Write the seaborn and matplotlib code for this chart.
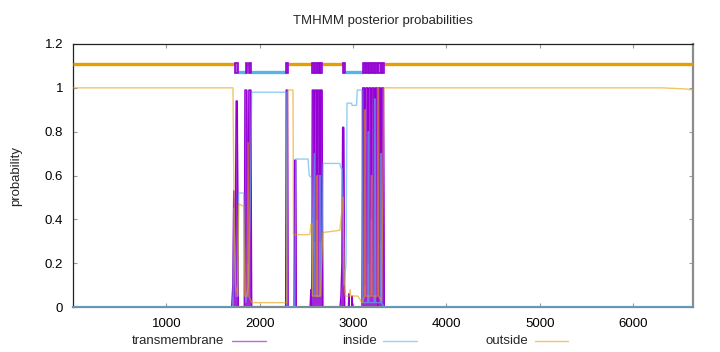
import matplotlib
matplotlib.use("Agg")
import matplotlib.pyplot as plt
from matplotlib.lines import Line2D
from matplotlib.patches import Rectangle
import seaborn as sns
import pandas as pd

# ---------------- data ----------------
seq_length = 6640

tm_pos = [1, 1700, 1712, 1722, 1730, 1738, 1748, 1760, 1772, 1835, 1842, 1862, 1870, 1876,
          1884, 1906, 1914, 2278, 2284, 2298, 2304, 2368, 2374, 2386, 2392, 2540, 2548, 2556,
          2563, 2580, 2586, 2592, 2609, 2615, 2621, 2638, 2645, 2651, 2668, 2676, 2860, 2870,
          2880, 2888, 2900, 2910, 2950, 2955, 2960, 2985, 2990, 2995, 3095, 3103, 3122, 3129,
          3137, 3156, 3163, 3171, 3190, 3197, 3205, 3224, 3231, 3239, 3258, 3265, 3273, 3292,
          3299, 3307, 3326, 3334, 6640]
tm_prob = [0, 0, 0.10, 0.53, 0.05, 0.30, 0.94, 0.94, 0.0, 0.0, 0.99, 0.99, 0.30, 0.20,
           0.99, 0.99, 0.0, 0.0, 0.99, 0.99, 0.0, 0.0, 0.67, 0.67, 0.0, 0.0, 0.08, 0.0,
           0.99, 0.99, 0.30, 0.99, 0.99, 0.40, 0.99, 0.99, 0.30, 0.99, 0.99, 0.0, 0.0, 0.05,
           0.20, 0.82, 0.82, 0.0, 0.0, 0.06, 0.0, 0.0, 0.05, 0.0, 0.0, 1.0, 1.0, 0.10,
           1.0, 1.0, 0.20, 1.0, 1.0, 0.40, 1.0, 1.0, 0.05, 1.0, 1.0, 0.0, 1.0, 1.0,
           0.30, 1.0, 1.0, 0.0, 0.0]

inside_pos = [1, 1714, 1725, 1740, 1765, 1775, 1829, 1840, 1850, 1880, 1900, 1915, 2284, 2292,
              2375, 2388, 2518, 2530, 2555, 2565, 2586, 2592, 2640, 2646, 2652, 2672, 2679,
              2858, 2870, 2883, 2893, 2905, 2925, 2935, 2983, 2990, 3037, 3045, 3094, 3105,
              3158, 3164, 3169, 3226, 3232, 3237, 3294, 3300, 3305, 3330, 6640]
inside_prob = [0.0, 0.0, 0.45, 0.05, 0.05, 0.52, 0.52, 0.20, 0.02, 0.10, 0.50, 0.98, 0.98, 0.0,
               0.0, 0.675, 0.675, 0.60, 0.59, 0.05, 0.70, 0.05, 0.05, 0.60, 0.05, 0.40, 0.655,
               0.655, 0.633, 0.633, 0.45, 0.10, 0.20, 0.93, 0.93, 0.92, 0.92, 0.99, 0.99, 0.02,
               0.02, 0.80, 0.02, 0.02, 0.95, 0.02, 0.02, 0.70, 0.02, 0.0, 0.0]

outside_pos = [1, 1714, 1725, 1740, 1765, 1775, 1829, 1838, 1866, 1876, 1884, 1915, 2290, 2300,
               2357, 2362, 2536, 2550, 2560, 2568, 2611, 2616, 2620, 2650, 2672, 2679, 2858,
               2883, 2893, 2905, 2915, 2960, 2968, 2975, 3051, 3095, 3124, 3130, 3135, 3192,
               3198, 3203, 3260, 3266, 3271, 3305, 3322, 3330, 6300, 6560, 6640]
outside_prob = [1.0, 1.0, 0.47, 0.10, 0.05, 0.47, 0.46, 0.05, 0.05, 0.75, 0.05, 0.02, 0.02, 0.99,
                0.99, 0.33, 0.33, 0.38, 0.38, 0.05, 0.05, 0.60, 0.05, 0.05, 0.30, 0.34, 0.35,
                0.45, 0.50, 0.10, 0.05, 0.05, 0.08, 0.05, 0.05, 0.02, 0.05, 0.90, 0.05, 0.05,
                0.60, 0.05, 0.05, 1.00, 0.05, 0.03, 0.60, 1.00, 1.00, 0.995, 0.99]

# predicted topology (o = outside, i = inside, M = transmembrane helix)
topo_start = [1, 1740, 1768, 1850, 1868, 1884, 1908, 2286, 2304, 2561, 2582, 2590, 2611, 2620,
              2641, 2650, 2672, 2893, 2912, 3101, 3124, 3135, 3158, 3169, 3192, 3203, 3226,
              3237, 3260, 3271, 3294, 3305, 3328]
topo_end = [1740, 1768, 1850, 1868, 1884, 1908, 2286, 2304, 2561, 2582, 2590, 2611, 2620, 2641,
            2650, 2672, 2893, 2912, 3101, 3124, 3135, 3158, 3169, 3192, 3203, 3226, 3237,
            3260, 3271, 3294, 3305, 3328, 6640]
topo_kind = ["o", "M", "i", "M", "o", "M", "i", "M", "o", "M", "i", "M", "o", "M",
             "i", "M", "o", "M", "i", "M", "o", "M", "i", "M", "o", "M", "i",
             "M", "o", "M", "i", "M", "o"]

x_ticks = [1000, 2000, 3000, 4000, 5000, 6000]
y_ticks = [0, 0.2, 0.4, 0.6, 0.8, 1.0, 1.2]
y_tick_labels = ["0", "0.2", "0.4", "0.6", "0.8", "1", "1.2"]
series_names = ["transmembrane", "inside", "outside"]

# ---------------- style ----------------
sns.set_style("white")
plt.rcParams['font.family'] = ['Liberation Sans', 'DejaVu Sans']

PURPLE = "#9400D3"
BLUE = "#56B4E9"
ORANGE = "#E69F00"

fig = plt.figure(figsize=(7.2, 3.52), dpi=100)
ax = fig.add_axes([73 / 720, 1 - 307 / 352, (693 - 73) / 720, (307 - 44) / 352])

tm_df = pd.DataFrame({"pos": tm_pos, "prob": tm_prob})
in_df = pd.DataFrame({"pos": inside_pos, "prob": inside_prob})
out_df = pd.DataFrame({"pos": outside_pos, "prob": outside_prob})

# transmembrane posterior (impulse-like filled profile)
ax.fill_between(tm_df["pos"], tm_df["prob"], color=PURPLE, lw=0, alpha=0.85, zorder=2)
sns.lineplot(data=tm_df, x="pos", y="prob", ax=ax, color=PURPLE, lw=1.0,
             estimator=None, sort=False, zorder=2)
sns.lineplot(data=in_df, x="pos", y="prob", ax=ax, color=BLUE, lw=1.0, alpha=0.65,
             estimator=None, sort=False, zorder=3)
sns.lineplot(data=out_df, x="pos", y="prob", ax=ax, color=ORANGE, lw=1.0, alpha=0.6,
             estimator=None, sort=False, zorder=4)

# topology track
for s, e, k in zip(topo_start, topo_end, topo_kind):
    if k == "o":
        ax.plot([s, e], [1.11, 1.11], color=ORANGE, lw=2.4, solid_capstyle="butt", zorder=5)
    elif k == "i":
        ax.plot([s, e], [1.07, 1.07], color=BLUE, lw=2.4, solid_capstyle="butt", zorder=5)
    else:
        ax.add_patch(Rectangle((s, 1.066), e - s, 0.048, facecolor="#b65ce0",
                               edgecolor=PURPLE, lw=1.2, zorder=6))

ax.set_xlim(1, seq_length)
ax.set_ylim(0, 1.2)
ax.set_xticks(x_ticks)
ax.set_xticklabels([str(t) for t in x_ticks])
ax.set_yticks(y_ticks)
ax.set_yticklabels(y_tick_labels)
ax.tick_params(axis="both", direction="in", length=3, width=0.8, color="#999999",
               labelsize=9.5, labelcolor="black", top=True, right=True,
               bottom=True, left=True)
ax.tick_params(axis="y", pad=7)
ax.tick_params(axis="x", pad=8)
ax.set_xlabel("")
ax.set_ylabel("probability", fontsize=9.5, labelpad=16)

for side in ["top", "left"]:
    ax.spines[side].set_color("#222222")
    ax.spines[side].set_linewidth(0.9)
ax.spines["right"].set_color("#8c8c8c")
ax.spines["right"].set_linewidth(1.6)
ax.spines["bottom"].set_color("#7a8b98")
ax.spines["bottom"].set_linewidth(1.6)

fig.text(383 / 720, 1 - 21 / 352, "TMHMM posterior probabilities", ha="center", va="center",
         fontsize=9.5)

# legend below plot (text then sample, gnuplot-like)
leg_y = 1 - 341 / 352
legend_layout = [(131.7, 231.7, 265.7, PURPLE), (341.7, 383.3, 416.7, BLUE),
                 (485.0, 535.0, 568.3, ORANGE)]
for name, (tx, l0, l1, col) in zip(series_names, legend_layout):
    fig.text(tx / 720, leg_y, name, ha="left", va="center", fontsize=9.5)
    fig.add_artist(Line2D([l0 / 720, l1 / 720], [leg_y, leg_y], color=col, lw=1.0, alpha=0.6,
                          transform=fig.transFigure))

fig.savefig("out.png", dpi=100)
